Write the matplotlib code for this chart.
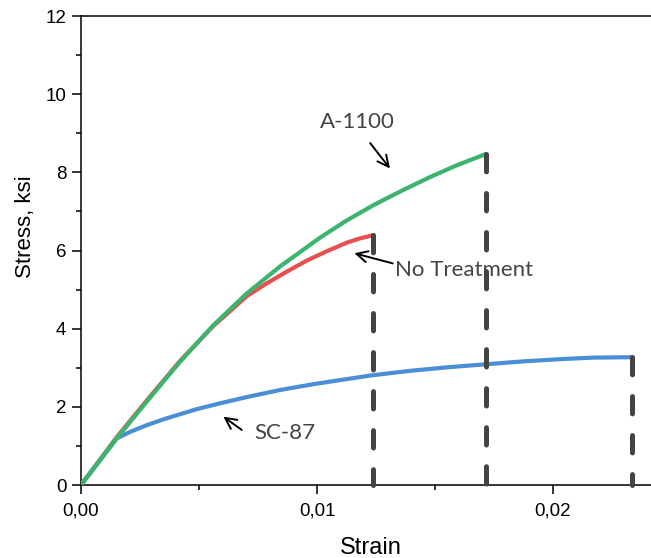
import matplotlib.pyplot as plt
from matplotlib.ticker import MultipleLocator, FuncFormatter

# strain / stress values
a1100_strain = [0.0, 0.00151, 0.00278, 0.00419, 0.00561, 0.00702, 0.00843,
                0.01013, 0.01126, 0.01239, 0.01352, 0.01479, 0.01592, 0.01716]
a1100_stress = [0.0, 1.19, 2.13, 3.15, 4.09, 4.90, 5.59,
                6.33, 6.77, 7.16, 7.51, 7.88, 8.18, 8.47]

notreat_strain = [0.0, 0.00151, 0.00278, 0.00419, 0.00561, 0.00702, 0.00787,
                  0.00872, 0.00956, 0.01041, 0.01126, 0.01182, 0.01236]
notreat_stress = [0.0, 1.22, 2.16, 3.17, 4.07, 4.83, 5.16,
                  5.46, 5.74, 5.98, 6.20, 6.31, 6.39]

sc87_strain = [0.0, 0.00151, 0.00208, 0.00278, 0.00349, 0.00419, 0.0049, 0.00589,
               0.00702, 0.00843, 0.00984, 0.01126, 0.01236, 0.01408, 0.0155,
               0.01716, 0.01889, 0.0203, 0.02171, 0.02333]
sc87_stress = [0.0, 1.19, 1.36, 1.53, 1.68, 1.81, 1.94, 2.09,
               2.25, 2.43, 2.58, 2.71, 2.81, 2.93, 3.01,
               3.09, 3.17, 3.22, 3.26, 3.27]

plt.rcParams['lines.scale_dashes'] = False
plt.rcParams['font.family'] = ['Liberation Sans', 'DejaVu Sans']

fig = plt.figure(figsize=(6.51, 5.58), dpi=100)
ax = fig.add_axes([0.1244, 0.1308, 0.8756, 0.8405])

green = '#3cb46e'
red = '#e8504f'
blue = '#4a8fd6'
dash_col = '#444444'

ax.plot(notreat_strain, notreat_stress, color=red, lw=3.0,
        solid_capstyle='round', solid_joinstyle='round', zorder=3)
ax.plot(a1100_strain, a1100_stress, color=green, lw=3.0,
        solid_capstyle='round', solid_joinstyle='round', zorder=4)
ax.plot(sc87_strain, sc87_stress, color=blue, lw=3.0,
        solid_capstyle='round', solid_joinstyle='round', zorder=3)

# failure markers: dashed verticals from the end of each curve down to zero
for xs, ys in [(notreat_strain, notreat_stress), (a1100_strain, a1100_stress),
               (sc87_strain, sc87_stress)]:
    ax.plot([xs[-1], xs[-1]], [ys[-1], 0], color=dash_col, lw=3.6,
            dashes=(12.5, 15.6), dash_capstyle='round', zorder=5, clip_on=False)

txt = dict(fontsize=16, color='#444444', family=['Lato', 'DejaVu Sans'])
arr = dict(arrowstyle='->', color='black', lw=1.4, mutation_scale=20,
           shrinkA=0, shrinkB=0)
ax.text(0.01172, 9.29, 'A-1100', ha='center', va='center', **txt)
ax.annotate('', xy=(0.01309, 8.10), xytext=(0.01225, 8.75), arrowprops=arr)
ax.text(0.01331, 5.49, 'No Treatment', ha='left', va='center', **txt)
ax.annotate('', xy=(0.01158, 5.93), xytext=(0.01321, 5.67), arrowprops=arr)
ax.text(0.00733, 1.33, 'SC-87', ha='left', va='center', **txt)
ax.annotate('', xy=(0.00603, 1.75), xytext=(0.00681, 1.41), arrowprops=arr)

ax.set_xlim(0, 0.02415)
ax.set_ylim(0, 12)
ax.xaxis.set_major_locator(MultipleLocator(0.01))
ax.xaxis.set_minor_locator(MultipleLocator(0.005))
ax.yaxis.set_major_locator(MultipleLocator(2))
ax.yaxis.set_minor_locator(MultipleLocator(1))
ax.xaxis.set_major_formatter(FuncFormatter(lambda v, p: ('%.2f' % v).replace('.', ',')))
ax.tick_params(which='major', direction='out', length=6.5, width=1.1, labelsize=13.5)
ax.tick_params(which='minor', direction='out', length=3.5, width=1.1)
ax.tick_params(axis='x', which='major', pad=6)
ax.tick_params(axis='y', which='major', pad=4)
ax.spines['right'].set_visible(False)
for s in ['left', 'bottom', 'top']:
    ax.spines[s].set_linewidth(1.1)

fig.text(371 / 651, 1 - 554 / 558, 'Strain', fontsize=17, ha='center', va='baseline')
fig.text(25 / 651, 1 - 227 / 558, 'Stress, ksi', fontsize=16, rotation=90,
         ha='center', va='center')

fig.savefig('out.png', dpi=100)
